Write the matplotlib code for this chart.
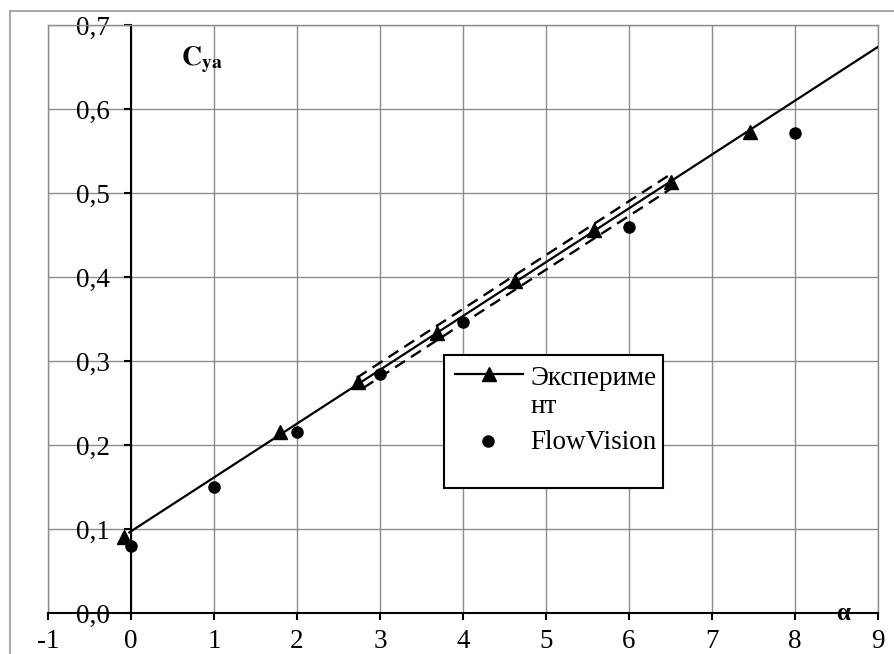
import matplotlib
matplotlib.use("Agg")
import matplotlib.pyplot as plt
from matplotlib.lines import Line2D
from matplotlib.patches import Rectangle

plt.rcParams["font.family"] = ["Liberation Serif", "DejaVu Serif"]
plt.rcParams["mathtext.fontset"] = "stix"

# experiment points (triangles)
exp_alpha = [-0.08, 1.8, 2.74, 3.69, 4.63, 5.58, 6.51, 7.46]
exp_cy = [0.091, 0.215, 0.275, 0.333, 0.395, 0.456, 0.513, 0.573]

# fitted line through experiment
fit_alpha = [-0.02, 9.0]
fit_cy = [0.096, 0.674]

# dashed band around the fit
band_up_alpha = [2.72, 6.48]
band_up_cy = [0.280, 0.521]
band_lo_alpha = [2.8, 6.52]
band_lo_cy = [0.268, 0.506]

# FlowVision points
fv_alpha = [0, 1, 2, 3, 4, 6, 8]
fv_cy = [0.080, 0.150, 0.215, 0.284, 0.346, 0.459, 0.571]

x_ticks = [-1, 0, 1, 2, 3, 4, 5, 6, 7, 8, 9]
x_labels = ["-1", "0", "1", "2", "3", "4", "5", "6", "7", "8", "9"]
y_ticks = [0.0, 0.1, 0.2, 0.3, 0.4, 0.5, 0.6, 0.7]
y_labels = ["0,0", "0,1", "0,2", "0,3", "0,4", "0,5", "0,6", "0,7"]

W, H = 895, 654
fig = plt.figure(figsize=(W / 100, H / 100), dpi=100)
fig.patch.set_facecolor("white")

# outer chart frame (cut off on right/bottom)
fig.add_artist(Rectangle((10 / W, -0.1), 1.2, (H - 11) / H + 0.1,
                         transform=fig.transFigure, fill=False,
                         edgecolor="#9a9a9a", linewidth=1.2))

ax = fig.add_axes([48 / W, 41 / H, 830 / W, 588 / H])
ax.set_xlim(-1, 9)
ax.set_ylim(0, 0.7)

grid_c = "#8c8c8c"
ax.grid(True, color=grid_c, linewidth=1.0)
ax.set_axisbelow(True)
ax.axvline(-1, color=grid_c, linewidth=1.0, clip_on=False, zorder=0.5)

ax.spines["left"].set_position(("data", 0))
ax.spines["left"].set_linewidth(1.5)
ax.spines["bottom"].set_linewidth(1.5)
ax.spines["top"].set_color(grid_c)
ax.spines["right"].set_color(grid_c)
ax.spines["top"].set_linewidth(1.0)
ax.spines["right"].set_linewidth(1.0)

ax.set_xticks(x_ticks)
ax.set_xticklabels(x_labels)
ax.set_yticks(y_ticks)
ax.set_yticklabels(y_labels)
ax.tick_params(axis="x", direction="out", length=5, width=1.5, pad=6.5, labelsize=19.5)
ax.tick_params(axis="y", direction="out", length=5, width=1.5, pad=10, labelsize=19.5)

# data
ax.plot(fit_alpha, fit_cy, color="black", linewidth=1.6, zorder=3)
ax.plot(exp_alpha, exp_cy, linestyle="none", marker="^", markersize=10.5,
        color="black", zorder=4)
ax.plot(band_up_alpha, band_up_cy, color="black", linewidth=1.7,
        linestyle=(0, (5, 3)), zorder=3)
ax.plot(band_lo_alpha, band_lo_cy, color="black", linewidth=1.7,
        linestyle=(0, (5, 3)), zorder=3)
ax.plot(fv_alpha, fv_cy, linestyle="none", marker="o", markersize=8,
        color="black", zorder=4)

# axis labels
ax.text(0.6, 0.652, r"$\mathbf{C}_{\mathbf{ya}}$", fontsize=20, ha="left",
        va="baseline")
ax.text(8.58, 0.0, "α", fontsize=18, fontweight="bold", ha="center",
        va="center")

# legend box (Excel style)
ax.add_patch(Rectangle((0.477, 0.213), 0.264, 0.226, transform=ax.transAxes,
                       facecolor="white", edgecolor="black", linewidth=1.5,
                       zorder=6))
ax.add_line(Line2D([0.490, 0.572], [0.406, 0.406], transform=ax.transAxes,
                   color="black", linewidth=1.6, zorder=7))
ax.add_line(Line2D([0.531], [0.406], transform=ax.transAxes, marker="^",
                   markersize=10.5, color="black", zorder=7))
ax.add_line(Line2D([0.530], [0.293], transform=ax.transAxes, marker="o",
                   markersize=8, color="black", zorder=7))
ax.text(0.581, 0.388, "Экспериме", transform=ax.transAxes, fontsize=19.5,
        va="baseline", zorder=7)
ax.text(0.581, 0.340, "нт", transform=ax.transAxes, fontsize=19.5,
        va="baseline", zorder=7)
ax.text(0.581, 0.279, "FlowVision", transform=ax.transAxes, fontsize=19.5,
        va="baseline", zorder=7)

fig.savefig("out.png", dpi=100, facecolor="white")
plt.close(fig)
